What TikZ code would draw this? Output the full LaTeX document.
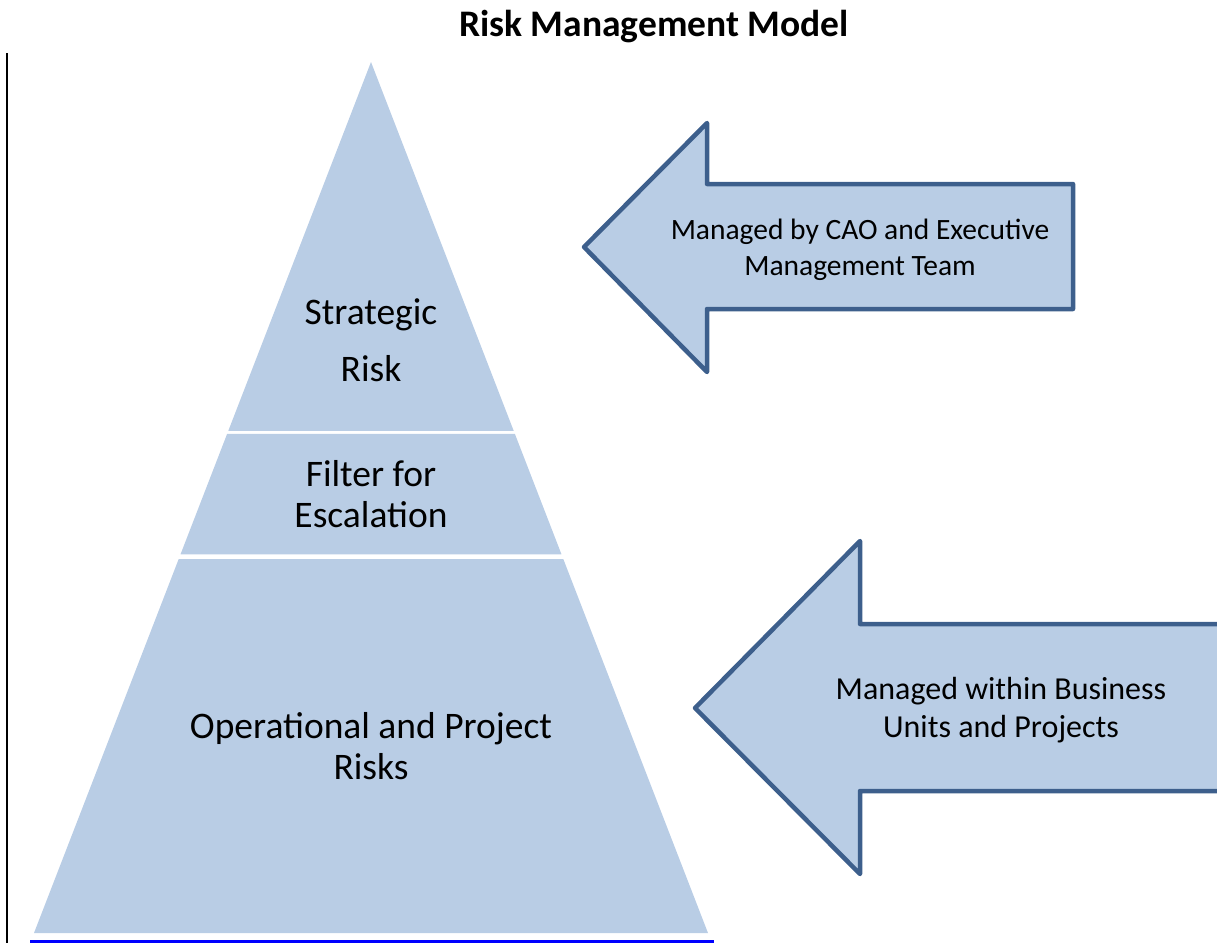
\documentclass[tikz,border=0pt]{standalone}
\usepackage{fontspec}
\setmainfont{Carlito}
\usetikzlibrary{calc}

\definecolor{riskfill}{HTML}{B9CDE5}
\definecolor{riskline}{HTML}{3D5F8C}

\tikzset{
  tier/.style={fill=riskfill},
  tiertext/.style={align=center, font=\fontsize{37.5}{41}\selectfont},
  bigarrow/.style={fill=riskfill, draw=riskline, line width=4.5pt, line join=round},
  arrowtext/.style={align=center, font=\fontsize{29.5}{36}\selectfont}
}

\begin{document}
\begin{tikzpicture}[x=1pt, y=-1pt]
    \useasboundingbox (0,0) rectangle (1217,943);
    \node[font=\bfseries\fontsize{37.5}{41}\selectfont] (title) at (654,27) {Risk Management Model};
    \draw[line width=2pt] (7,53) -- (7,943);

    \coordinate (apex) at (371,62);
    \coordinate (bl) at (34,933);
    \coordinate (br) at (708,933);
    % pyramid tiers
    \fill[tier] (apex) -- ($(apex)!0.4236!(bl)$) -- ($(apex)!0.4236!(br)$) -- cycle;
    \fill[tier] ($(apex)!0.4270!(bl)$) -- ($(apex)!0.5652!(bl)$) -- ($(apex)!0.5652!(br)$) -- ($(apex)!0.4270!(br)$) -- cycle;
    \fill[tier] ($(apex)!0.5706!(bl)$) -- (bl) -- (br) -- ($(apex)!0.5706!(br)$) -- cycle;
    \draw[blue, line width=3pt] (30,941) -- (714,941);

    \node[tiertext, font=\fontsize{37.5}{57}\selectfont] (strategic) at (371,340) {Strategic\\Risk};
    \node[tiertext] (filter) at (371,494) {Filter for\\Escalation};
    \node[tiertext] (operational) at (371,746) {Operational and Project\\Risks};

    % arrows
    \draw[bigarrow] (584,247) -- (707,123) -- (707,184) -- (1073,184) -- (1073,309)
        -- (707,309) -- (707,372) -- cycle;
    \node[arrowtext] (cao) at (860,250) {Managed by CAO and Executive\\Management Team};
    \draw[bigarrow] (695,708) -- (860,541) -- (860,624) -- (1230,624) -- (1230,791)
        -- (860,791) -- (860,874) -- cycle;
    \node[arrowtext, font=\fontsize{32}{38}\selectfont] (units) at (1001,710) {Managed within Business\\Units and Projects};
\end{tikzpicture}
\end{document}
